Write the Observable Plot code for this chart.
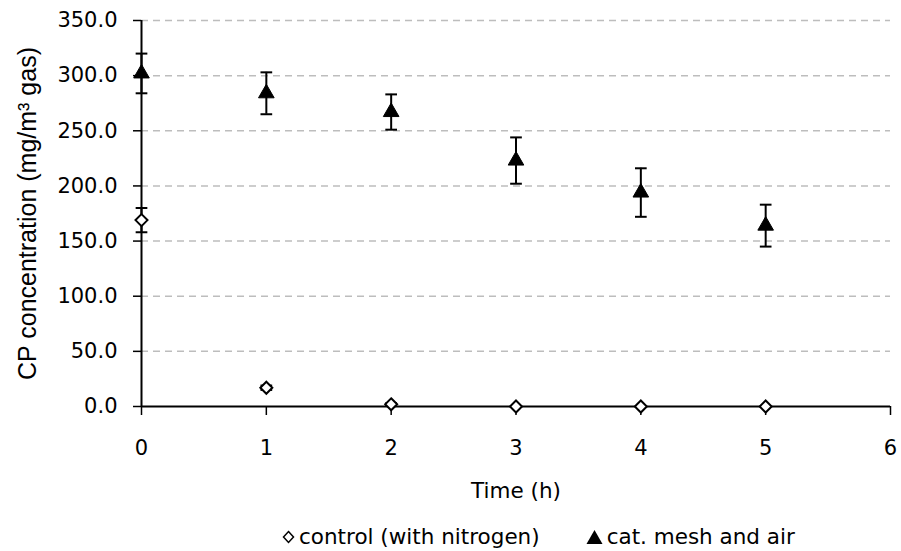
<!DOCTYPE html>
<html>
<head>
<meta charset="utf-8">
<script src="https://cdn.jsdelivr.net/npm/d3@7"></script>
<script src="https://cdn.jsdelivr.net/npm/@observablehq/plot@0.6"></script>
<style>
  html, body { margin: 0; padding: 0; background: #fff; }
  #chart { width: 901px; height: 551px; position: relative; overflow: hidden; }
  #legend {
    position: absolute; left: 282px; top: 523px; line-height: 28px;
    display: flex; align-items: center; white-space: nowrap;
    font-family: "DejaVu Sans", sans-serif; font-size: 21.5px; color: #000;
  }
  #legend .item { display: flex; align-items: center; }
  #legend .item + .item { margin-left: 46px; }
  #legend svg { margin-right: 4px; }
</style>
</head>
<body>
<div id="chart"></div>
<script>
// Sampling times (h)
const times = [0, 1, 2, 3, 4, 5];

// CP concentration, control run (with nitrogen)
const controlMean = [169, 17, 2, 0, 0, 0];
const controlErr = [11, 2, 1, 0, 0, 0];

// CP concentration, catalytic mesh with air
const meshMean = [302, 284, 267, 223, 194, 164];
const meshErr = [18, 19, 16, 21, 22, 19];

const xTicks = [0, 1, 2, 3, 4, 5, 6];
const yTicks = [0, 50, 100, 150, 200, 250, 300, 350];
const gridTicks = [50, 100, 150, 200, 250, 300, 350];

const seriesNames = ["control (with nitrogen)", "cat. mesh and air"];

const rows = [];
times.forEach((t, i) => {
  rows.push({series: seriesNames[0], t, v: controlMean[i], e: controlErr[i]});
  rows.push({series: seriesNames[1], t, v: meshMean[i], e: meshErr[i]});
});
const control = rows.filter(d => d.series === seriesNames[0]);
const mesh = rows.filter(d => d.series === seriesNames[1]);
const withErr = rows.filter(d => d.e > 0);

// horizontal cap used at both ends of an error bar
const cap = {
  draw(context, size) {
    const w = Math.sqrt(size);
    context.moveTo(-w, 0);
    context.lineTo(w, 0);
  }
};

const textFont = "'DejaVu Sans', sans-serif";

const plot = Plot.plot({
  width: 901,
  height: 518,
  marginTop: 20,
  marginBottom: 112,
  marginLeft: 141,
  marginRight: 11,
  style: {fontFamily: textFont, fontSize: "21px", color: "#000", background: "#fff"},
  x: {domain: [0, 6], ticks: xTicks, label: null},
  y: {domain: [0, 350], ticks: yTicks, label: null},
  marks: [
    Plot.gridY(gridTicks, {stroke: "#bdbdbd", strokeOpacity: 1, strokeWidth: 1.5, strokeDasharray: "7,5"}),
    Plot.axisX(xTicks, {tickSize: 9, tickPadding: 25, tickFormat: d => String(d), stroke: "#000", strokeWidth: 1.5}),
    Plot.axisY(yTicks, {tickSize: 8, tickPadding: 16, tickFormat: d => d.toFixed(1), stroke: "#000", strokeWidth: 1.5}),
    Plot.ruleX([0], {stroke: "#000", strokeWidth: 2}),
    Plot.ruleY([0], {stroke: "#000", strokeWidth: 2}),
    // error bars
    Plot.ruleX(withErr, {x: "t", y1: d => d.v - d.e, y2: d => d.v + d.e, stroke: "#000", strokeWidth: 2}),
    Plot.dot(withErr, {x: "t", y: d => d.v + d.e, symbol: cap, r: 3.3, stroke: "#000", strokeWidth: 2}),
    Plot.dot(withErr, {x: "t", y: d => d.v - d.e, symbol: cap, r: 3.3, stroke: "#000", strokeWidth: 2}),
    // markers
    Plot.dot(control, {x: "t", y: "v", symbol: "diamond2", r: 5.4, fill: "#fff", stroke: "#000", strokeWidth: 2}),
    Plot.dot(mesh, {x: "t", y: "v", symbol: "triangle", r: 5.8, fill: "#000", stroke: "#000", strokeWidth: 1}),
    // axis titles
    Plot.text(["CP concentration (mg/m³ gas)"], {frameAnchor: "left", rotate: -90, dx: -114,
      textAnchor: "middle", fontFamily: "'Liberation Sans', Arial, sans-serif", fontSize: 25}),
    Plot.text(["Time (h)"], {frameAnchor: "bottom", dy: 91, fontSize: 21.5})
  ]
});

const chart = document.getElementById("chart");
chart.appendChild(plot);

// legend below the plot
const legend = document.createElement("div");
legend.id = "legend";
const diamondSvg = `<svg width="13" height="16" viewBox="-6.5 -8 13 16"><path d="M0,-5.5L5,0L0,5.5L-5,0Z" fill="#fff" stroke="#000" stroke-width="1.5"/></svg>`;
const triangleSvg = `<svg width="17" height="16" viewBox="-8.5 -8 17 16"><path d="M0,-7L8,7L-8,7Z" fill="#000"/></svg>`;
legend.innerHTML =
  `<div class="item">${diamondSvg}<span>${seriesNames[0]}</span></div>` +
  `<div class="item">${triangleSvg}<span>${seriesNames[1]}</span></div>`;
chart.appendChild(legend);
</script>
</body>
</html>
